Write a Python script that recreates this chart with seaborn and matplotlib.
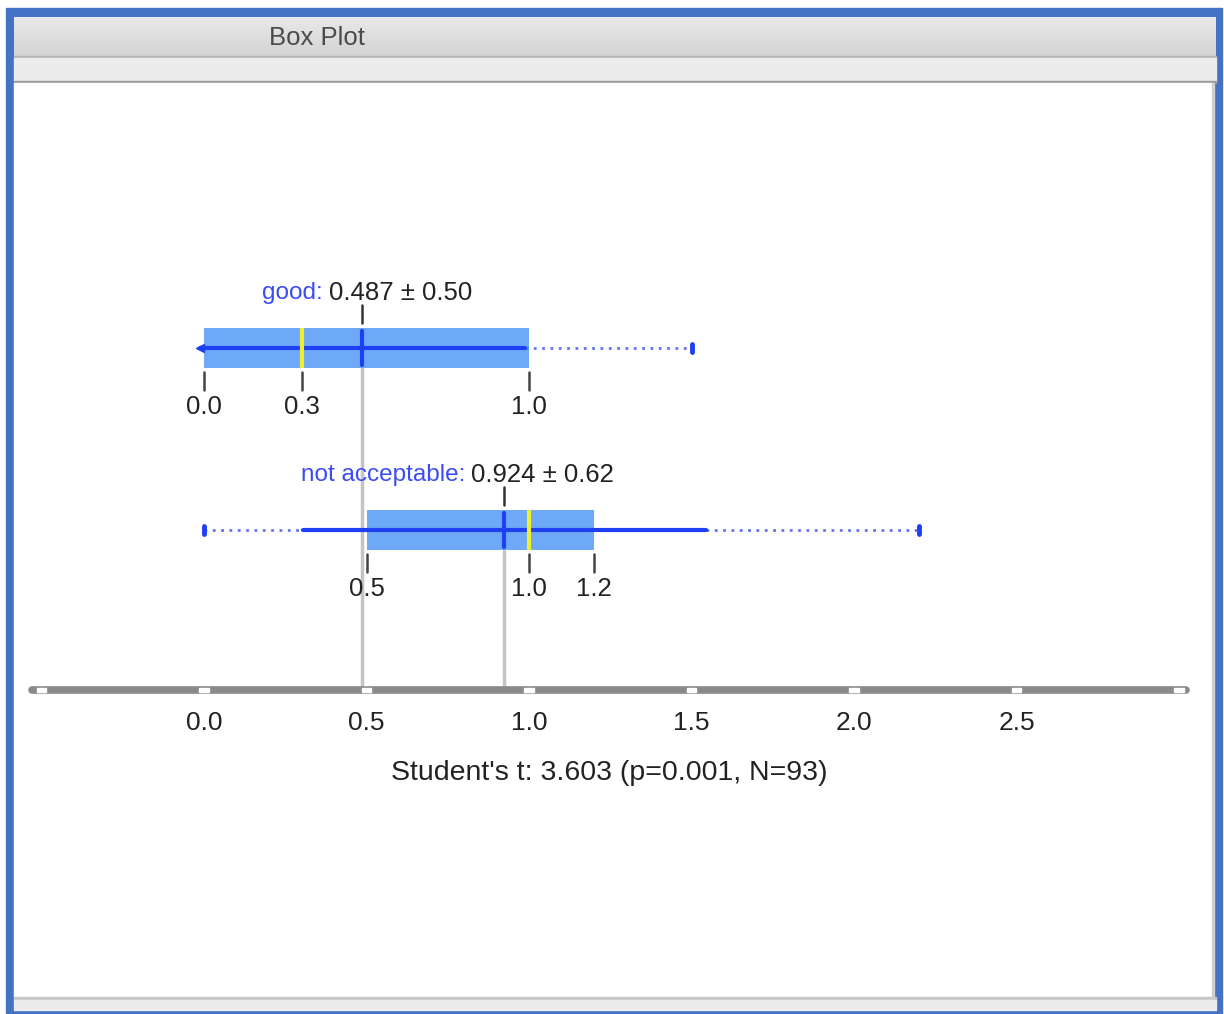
import matplotlib
matplotlib.use("Agg")
import matplotlib.pyplot as plt
import matplotlib.patches as mpatches
import numpy as np
import seaborn as sns

# box plot summary per group
groups = ["good", "not acceptable"]
means = [0.487, 0.924]
sds = [0.50, 0.62]
mins = [0.0, 0.0]
q1s = [0.0, 0.5]
medians = [0.3, 1.0]
q3s = [1.0, 1.2]
maxs = [1.5, 2.2]
box_labels = [["0.0", "0.3", "1.0"], ["0.5", "1.0", "1.2"]]
label_split = [0.375, 0.812]   # where group name ends and value starts

axis_ticks = [-0.5, 0.0, 0.5, 1.0, 1.5, 2.0, 2.5, 3.0]
axis_labels = ["0.0", "0.5", "1.0", "1.5", "2.0", "2.5"]
stat_text = "Student's t: 3.603 (p=0.001, N=93)"

sns.set_theme(style="white")
plt.rcParams["font.family"] = ["Liberation Sans", "DejaVu Sans"]

W, H = 1224, 1014
fig = plt.figure(figsize=(W / 100, H / 100), dpi=100)

# window chrome, in pixel coordinates
bg = fig.add_axes([0, 0, 1, 1])
bg.axis("off")
bg.add_patch(mpatches.Rectangle((6, 8), 1216, 1006, color="#4472c4"))
grad = np.linspace(0, 1, 50).reshape(-1, 1)
bar_cmap = matplotlib.colors.LinearSegmentedColormap.from_list("bar", ["#e9e9e9", "#d3d3d3"])
bg.imshow(grad, extent=(14, 1216, 56, 17), cmap=bar_cmap, aspect="auto", zorder=1)
bg.add_patch(mpatches.Rectangle((14, 56), 1202, 2, color="#b4b4b4", zorder=2))
bg.add_patch(mpatches.Rectangle((14, 58), 1202, 24, color="#ececec", zorder=2))
bg.add_patch(mpatches.Rectangle((14, 81), 1202, 2, color="#9a9a9a", zorder=2))
bg.add_patch(mpatches.Rectangle((14, 83), 1199, 915, color="white", zorder=2))
bg.add_patch(mpatches.Rectangle((1212, 83), 2, 916, color="#cfcfcf", zorder=2))
bg.add_patch(mpatches.Rectangle((14, 997), 1202, 3, color="#c8c8c8", zorder=2))
bg.add_patch(mpatches.Rectangle((14, 1000), 1202, 10, color="#ececec", zorder=2))
bg.text(317, 38, "Box Plot", fontsize=18.5, color="#4a4a4a", ha="center", va="center", zorder=3)
bg.set_xlim(0, W)
bg.set_ylim(H, 0)

# plot axes: x in data units, y in pixels
ax = fig.add_axes([0, 0, 1, 1], facecolor="none")
ax.set_xlim(-204 / 325, (W - 204) / 325)
ax.set_ylim(H, 0)
ax.axis("off")

rows_y = [348, 530]
box_h = 40
blue = "#1e3ff2"
dot_blue = "#6474f2"
fs = 18.5

for i, g in enumerate(groups):
    y = rows_y[i]
    m, s = means[i], sds[i]
    lo, hi = m - s, m + s
    # box
    ax.add_patch(mpatches.Rectangle((q1s[i], y - box_h / 2), q3s[i] - q1s[i], box_h,
                                    facecolor="#6ea9f7", edgecolor="none", zorder=2))
    # dotted whiskers out to min / max
    if mins[i] < lo:
        ax.plot([mins[i], lo], [y, y], ls=(0, (1, 2)), color=dot_blue, lw=2, zorder=3)
        ax.plot([mins[i], mins[i]], [y - 4, y + 4], color=blue, lw=3.5, zorder=4,
                solid_capstyle="round")
    else:
        ax.plot([lo], [y], marker="<", color=blue, ms=6, zorder=4)
    ax.plot([hi, maxs[i]], [y, y], ls=(0, (1, 2)), color=dot_blue, lw=2, zorder=3)
    ax.plot([maxs[i], maxs[i]], [y - 4, y + 4], color=blue, lw=3.5, zorder=4,
            solid_capstyle="round")
    # mean +- sd
    sns.lineplot(x=[lo, hi], y=[y, y], ax=ax, color=blue, lw=3, zorder=4)
    ax.plot([m, m], [y - 17, y + 17], color=blue, lw=3, zorder=5)
    # median
    ax.plot([medians[i], medians[i]], [y - 20, y + 20], color="#f3ee2b", lw=3, zorder=5,
            solid_capstyle="butt")
    # mean guide to axis
    ax.plot([m, m], [y + 20, 690], color="#c4c4c4", lw=2.5, zorder=1)
    # mean tick and label above
    ax.plot([m, m], [y - 43, y - 25], color="#333333", lw=1.8, zorder=4)
    ax.text(label_split[i] - 0.009, y - 55, g + ":", color="#3b4cf5", fontsize=17.5,
            ha="right", va="center", zorder=6)
    ax.text(label_split[i] + 0.009, y - 55, f"{m:.3f} \u00b1 {s:.2f}", color="#222222",
            fontsize=fs, ha="left", va="center", zorder=6)
    # quartile ticks + labels below box
    for v, lab in zip([q1s[i], medians[i], q3s[i]], box_labels[i]):
        ax.plot([v, v], [y + 24, y + 42], color="#444444", lw=1.8, zorder=4)
        ax.text(v, y + 59, lab, fontsize=fs, color="#222222", ha="center", va="center", zorder=6)

# bottom axis
ax.plot([-0.53, 3.02], [690, 690], color="#8a8a8a", lw=5.5, solid_capstyle="round", zorder=3)
for tv in axis_ticks:
    ax.add_patch(mpatches.Rectangle((tv - 0.015, 688), 0.03, 4, color="white", zorder=4))
for lab in axis_labels:
    ax.text(float(lab), 723, lab, fontsize=19, color="#222222", ha="center", va="center")
ax.text((609 - 204) / 325, 773, stat_text, fontsize=20.5, color="#222222", ha="center", va="center")

fig.savefig("out.png", dpi=100)
